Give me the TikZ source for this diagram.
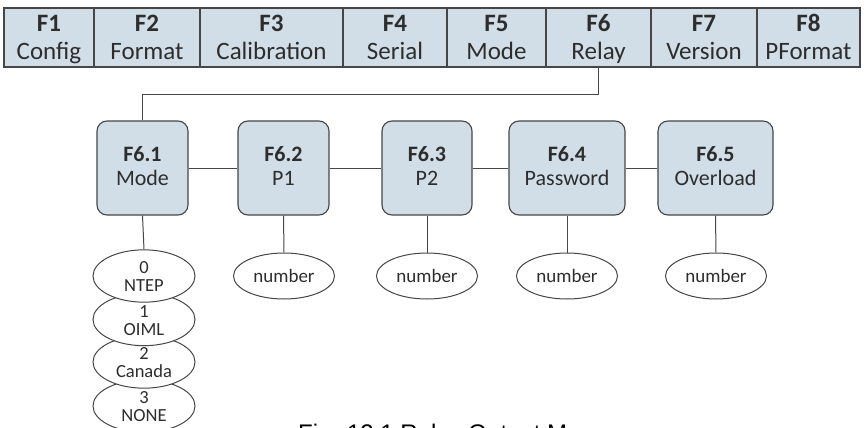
\documentclass[tikz,border=0pt]{standalone}
\usepackage{fontspec}
\setmainfont{Carlito}
\newfontfamily\capfont{Liberation Sans}
\usetikzlibrary{shapes.geometric}
\definecolor{boxfill}{RGB}{209,222,232}
\definecolor{edgecol}{RGB}{70,70,70}
\definecolor{txtcol}{RGB}{45,45,45}
% two-line texts with fixed first-line height and last-line depth
\newcommand{\celltxt}[2]{\textbf{#1}\rule{0pt}{21.5pt}\\#2\rule[-5.5pt]{0pt}{5.5pt}}
\newcommand{\boxtxt}[2]{\textbf{#1}\rule{0pt}{15pt}\\#2\rule[-5pt]{0pt}{5pt}}
\newcommand{\elltxt}[2]{#1\rule{0pt}{16pt}\\#2\rule[-3pt]{0pt}{3pt}}
\tikzset{
  cell/.style={draw=edgecol, line width=1.1pt, fill=boxfill, minimum height=59pt, inner sep=0pt, outer sep=0pt, align=center, text=txtcol, font=\fontsize{25}{28}\selectfont},
  menubox/.style={draw=edgecol, line width=1.1pt, fill=boxfill, rounded corners=10pt, minimum height=94pt, inner sep=0pt, align=center, text=txtcol, font=\fontsize{22}{24}\selectfont},
  numell/.style={ellipse, draw=edgecol, line width=1pt, minimum width=101pt, minimum height=46pt, inner sep=0pt, text=txtcol, font=\fontsize{19}{20}\selectfont},
  modeell/.style={ellipse, draw=edgecol, line width=1pt, fill=white, minimum width=102pt, minimum height=44pt, inner sep=0pt, align=center, text=txtcol, font=\fontsize{18.5}{18}\selectfont},
  conn/.style={draw=edgecol, line width=1pt}
}
\begin{document}
\begin{tikzpicture}[x=1pt,y=-1pt]
\useasboundingbox (0,0) rectangle (867,428);
\fill[white] (0,0) rectangle (867,428);
% top bar
\node[cell, minimum width=90pt]  (f1) at (49,37.5)    {\celltxt{F1}{Config}};
\node[cell, minimum width=106pt] (f2) at (147,37.5)   {\celltxt{F2}{Format}};
\node[cell, minimum width=143pt] (f3) at (271.5,37.5) {\celltxt{F3}{Calibration}};
\node[cell, minimum width=104pt] (f4) at (395,37.5)   {\celltxt{F4}{Serial}};
\node[cell, minimum width=99pt]  (f5) at (496.5,37.5) {\celltxt{F5}{Mode}};
\node[cell, minimum width=105pt] (f6) at (598.5,37.5) {\celltxt{F6}{Relay}};
\node[cell, minimum width=106pt] (f7) at (704,37.5)   {\celltxt{F7}{Version}};
\node[cell, minimum width=103pt] (f8) at (808.5,37.5) {\celltxt{F8}{PFormat}};
% sub menu boxes
\node[menubox, minimum width=91pt]  (m1) at (142.5,168) {\boxtxt{F6.1}{Mode}};
\node[menubox, minimum width=91pt]  (m2) at (283.5,168) {\boxtxt{F6.2}{P1}};
\node[menubox, minimum width=90pt]  (m3) at (427,168)   {\boxtxt{F6.3}{P2}};
\node[menubox, minimum width=116pt] (m4) at (567,168)   {\boxtxt{F6.4}{Password}};
\node[menubox, minimum width=115pt] (m5) at (715.5,168) {\boxtxt{F6.5}{Overload}};
% value ellipses
\node[numell] (n2) at (284,276) {number};
\node[numell] (n3) at (427,276) {number};
\node[numell] (n4) at (567,276) {number};
\node[numell] (n5) at (716,276) {number};
\node[modeell] (e3) at (144,406)   {\elltxt{3}{NONE}};
\node[modeell] (e2) at (144,362)   {\elltxt{2}{Canada}};
\node[modeell] (e1) at (144,319.5) {\elltxt{1}{OIML}};
\node[modeell] (e0) at (144,276)   {\elltxt{0}{NTEP}};
% connectors
\draw[conn] (f6.south) -- ++(0,27) coordinate (j) -| (m1.north);
\draw[conn] (m1.east) -- (m2.west);
\draw[conn] (m2.east) -- (m3.west);
\draw[conn] (m3.east) -- (m4.west);
\draw[conn] (m4.east) -- (m5.west);
\draw[conn] (m1.south) -- (e0.north);
\draw[conn] (m2.south) -- (n2.north);
\draw[conn] (m3.south) -- (n3.north);
\draw[conn] (m4.south) -- (n4.north);
\draw[conn] (m5.south) -- (n5.north);
% caption (cut off by the page edge, as in the reference)
\node[anchor=base west, inner sep=0pt, text=black, font=\capfont\fontsize{24}{28}\selectfont] (cap) at (298,441) {Fig. 12.1 Relay Output Menu};
\end{tikzpicture}
\end{document}
